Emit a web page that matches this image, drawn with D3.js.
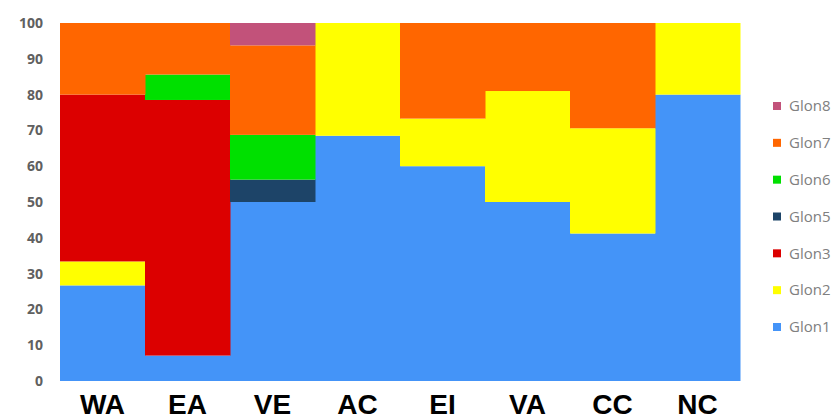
<!DOCTYPE html>
<html>
<head>
<meta charset="utf-8">
<script src="https://cdn.jsdelivr.net/npm/d3@7"></script>
<style>
body{margin:0;background:#fff;}
svg{display:block;}
</style>
</head>
<body>
<svg id="chart" width="836" height="419"></svg>
<script>
const categories = ["WA","EA","VE","AC","EI","VA","CC","NC"];
const seriesNames = ["Glon1","Glon2","Glon3","Glon5","Glon6","Glon7","Glon8"];
const glon1 = [26.7, 7.1, 50, 68.5, 60, 50, 41.2, 80];
const glon2 = [6.7, 0, 0, 31.5, 13.3, 31, 29.4, 20];
const glon3 = [46.6, 71.4, 0, 0, 0, 0, 0, 0];
const glon5 = [0, 0, 6.25, 0, 0, 0, 0, 0];
const glon6 = [0, 7.1, 12.5, 0, 0, 0, 0, 0];
const glon7 = [20, 14.4, 25, 0, 26.7, 19, 29.4, 0];
const glon8 = [0, 0, 6.25, 0, 0, 0, 0, 0];
const yTicks = [0,10,20,30,40,50,60,70,80,90,100];
const colors = ["#4494F8","#FFFF00","#DC0000","#1D4468","#00E000","#FF6600","#C2527A"];
const legendOrder = ["Glon8","Glon7","Glon6","Glon5","Glon3","Glon2","Glon1"];

const seriesValues = [glon1, glon2, glon3, glon5, glon6, glon7, glon8];
const rows = categories.map((c,i)=>{
  const r = {cat:c};
  seriesNames.forEach((s,j)=>{ r[s] = seriesValues[j][i]; });
  return r;
});

const svg = d3.select("#chart");
const margin = {left:60, right:96, top:23, bottom:38};
const W = 836, H = 419;
const x = d3.scaleBand().domain(categories).range([margin.left, W - margin.right]).padding(0);
const y = d3.scaleLinear().domain([0,100]).range([H - margin.bottom, margin.top]);
const color = d3.scaleOrdinal().domain(seriesNames).range(colors);

const stacked = d3.stack().keys(seriesNames)(rows);

svg.append("g").selectAll("g").data(stacked).join("g")
  .attr("fill", d => color(d.key))
  .selectAll("rect").data(d => d).join("rect")
  .attr("x", d => x(d.data.cat))
  .attr("width", x.bandwidth() + 0.5)
  .attr("y", d => y(d[1]))
  .attr("height", d => Math.max(0, y(d[0]) - y(d[1])));

// Y axis
const yAxis = svg.append("g")
  .attr("transform", `translate(${margin.left - 17},0)`)
  .call(d3.axisLeft(y).tickValues(yTicks).tickSize(0).tickPadding(0));
yAxis.select(".domain").remove();
yAxis.selectAll("text")
  .attr("fill", "#606060")
  .style("font-family", "'Open Sans', sans-serif")
  .style("font-weight", "700")
  .style("font-size", "14px");

// X axis
const xAxis = svg.append("g")
  .attr("transform", `translate(0,${H - margin.bottom})`)
  .call(d3.axisBottom(x).tickSize(0).tickPadding(0));
xAxis.select(".domain").remove();
xAxis.selectAll("text")
  .attr("dy", null)
  .attr("y", 33)
  .attr("fill", "#000")
  .style("font-family", "'Liberation Sans', Arial, sans-serif")
  .style("font-weight", "700")
  .style("font-size", "28px");

// Legend
const legend = svg.append("g").attr("transform", "translate(773,106)");
const ly = d3.scalePoint().domain(legendOrder).range([0, 221]);
const items = legend.selectAll("g").data(legendOrder).join("g")
  .attr("transform", d => `translate(0,${ly(d)})`);
items.append("rect").attr("x", 0).attr("y", -4).attr("width", 8).attr("height", 8)
  .attr("fill", d => color(d));
items.append("text").attr("x", 16).attr("y", 0).attr("dy", "0.35em")
  .attr("fill", "#808080")
  .style("font-family", "'Open Sans', sans-serif")
  .style("font-size", "15px")
  .text(d => d);
</script>
</body>
</html>
